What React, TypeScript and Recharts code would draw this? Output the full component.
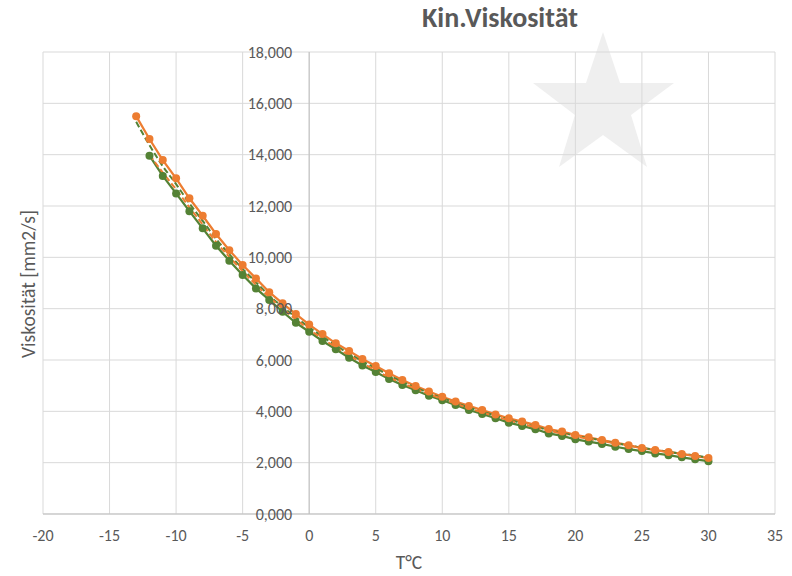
import { CartesianGrid, Label, Line, LineChart, ReferenceDot, ReferenceLine, XAxis, YAxis } from "recharts";

// temperature steps (°C)
const temps = [
  -13, -12, -11, -10, -9, -8, -7, -6, -5, -4, -3, -2, -1, 0, 1, 2, 3, 4, 5, 6, 7, 8, 9, 10, 11,
  12, 13, 14, 15, 16, 17, 18, 19, 20, 21, 22, 23, 24, 25, 26, 27, 28, 29, 30,
];

// kin. viscosity, orange series (from -13)
const orangeVals = [
  15.5, 14.61, 13.79, 13.08, 12.3, 11.62, 10.91, 10.28, 9.7, 9.18, 8.64, 8.21, 7.79, 7.38, 7.01,
  6.65, 6.35, 6.04, 5.77, 5.48, 5.22, 4.99, 4.77, 4.57, 4.38, 4.21, 4.05, 3.88, 3.73, 3.6, 3.47,
  3.31, 3.21, 3.08, 2.99, 2.88, 2.78, 2.68, 2.57, 2.49, 2.42, 2.34, 2.26, 2.18,
];

// green series (from -12)
const greenVals = [
  13.96, 13.17, 12.49, 11.8, 11.13, 10.45, 9.87, 9.31, 8.79, 8.34, 7.88, 7.45, 7.1, 6.74, 6.42,
  6.09, 5.79, 5.53, 5.26, 5.03, 4.82, 4.61, 4.43, 4.25, 4.05, 3.9, 3.73, 3.56, 3.43, 3.3, 3.14,
  3.04, 2.91, 2.82, 2.73, 2.62, 2.53, 2.45, 2.36, 2.29, 2.21, 2.13, 2.06,
];

// dashed trend lines
const greenTrend = [
  15.28, 14.37, 13.55, 12.85, 12.1, 11.42, 10.72, 10.12, 9.55, 9.03, 8.51, 8.08, 7.66, 7.27, 6.91,
  6.56, 6.25, 5.95, 5.68, 5.4, 5.15, 4.93, 4.71, 4.52, 4.33, 4.15, 3.99, 3.83, 3.68, 3.53, 3.4,
  3.27, 3.16, 3.05, 2.96, 2.86, 2.76, 2.67, 2.58, 2.5, 2.42, 2.35, 2.28, 2.2,
];
const orangeTrend = [
  14.0, 13.3, 12.65, 11.95, 11.28, 10.6, 10.02, 9.46, 8.93, 8.45, 8.0, 7.58, 7.19, 6.83, 6.5,
  6.18, 5.88, 5.6, 5.33, 5.1, 4.88, 4.67, 4.48, 4.3, 4.12, 3.96, 3.8, 3.65, 3.51, 3.38, 3.25,
  3.13, 3.02, 2.93, 2.84, 2.75, 2.65, 2.57, 2.49, 2.4, 2.33, 2.26, 2.19,
];

const xTicks = [-20, -15, -10, -5, 0, 5, 10, 15, 20, 25, 30, 35];
const yTicks = [0, 2, 4, 6, 8, 10, 12, 14, 16, 18];

const data = temps.map((t, i) => ({
  t,
  orange: orangeVals[i],
  green: i === 0 ? undefined : greenVals[i - 1],
  gTrend: greenTrend[i],
  oTrend: i === 0 ? undefined : orangeTrend[i - 1],
}));

const ORANGE = "#ED7D31";
const GREEN = "#548235";
const TEXT = "#595959";
const FONT = "Carlito, Calibri, 'Liberation Sans', sans-serif";

const fmt = (v: number) => v.toFixed(3).replace(".", ",");

export default function App() {
  return (
    <div style={{ position: "absolute", left: 0, top: 0, width: 792, height: 576, background: "#fff", fontFamily: FONT }}>
      <svg width={792} height={576} style={{ position: "absolute", left: 0, top: 0 }}>
        <polygon points="603,32 620,83 674,83 631,115 647,167 603,135 559,167 575,115 533,83 586,83" fill="#efefef" />
      </svg>
      <div
        style={{
          position: "absolute",
          left: 400,
          width: 200,
          top: 0,
          lineHeight: "36px",
          textAlign: "center",
          fontSize: 28,
          fontWeight: "bold",
          color: TEXT,
        }}
      >
        Kin.Viskosität
      </div>
      <div
        style={{
          position: "absolute",
          left: 28,
          top: 284,
          transform: "translate(-50%, -50%) rotate(-90deg)",
          whiteSpace: "nowrap",
          fontSize: 19.5,
          color: TEXT,
        }}
      >
        Viskosität [mm2/s]
      </div>
      <div style={{ position: "absolute", left: 0, top: 0 }}>
        <LineChart width={792} height={576} data={data} margin={{ top: 52, right: 17, left: 43, bottom: 0 }}>
          <CartesianGrid stroke="#d9d9d9" strokeWidth={1} />
          <XAxis
            dataKey="t"
            type="number"
            domain={[-20, 35]}
            ticks={xTicks}
            interval={0}
            height={62}
            stroke="#bfbfbf"
            tickLine={false}
            tickMargin={10}
            tick={{ fill: TEXT, fontSize: 16, fontFamily: FONT }}
          >
            <Label value="T°C" position="insideBottom" offset={7} fill={TEXT} fontSize={19.5} fontFamily={FONT} />
          </XAxis>
          <YAxis hide type="number" domain={[0, 18]} ticks={yTicks} />
          <ReferenceLine x={0} stroke="#bfbfbf" />
          {yTicks.map((v) => (
            <ReferenceDot
              key={v}
              x={0}
              y={v}
              r={0}
              stroke="none"
              label={{ value: fmt(v), position: "left", offset: 17, fill: TEXT, fontSize: 16, fontFamily: FONT }}
            />
          ))}
          <Line
            dataKey="green"
            stroke={GREEN}
            strokeWidth={2.25}
            dot={{ r: 4, fill: GREEN, stroke: GREEN, strokeWidth: 0 }}
            isAnimationActive={false}
          />
          <Line
            dataKey="orange"
            stroke={ORANGE}
            strokeWidth={2.25}
            dot={{ r: 4, fill: ORANGE, stroke: ORANGE, strokeWidth: 0 }}
            isAnimationActive={false}
          />
          <Line
            type="monotone"
            dataKey="gTrend"
            stroke={GREEN}
            strokeWidth={2}
            strokeDasharray="6 3"
            dot={false}
            isAnimationActive={false}
          />
          <Line
            type="monotone"
            dataKey="oTrend"
            stroke={ORANGE}
            strokeWidth={2}
            strokeDasharray="6 3"
            dot={false}
            isAnimationActive={false}
          />
        </LineChart>
      </div>
    </div>
  );
}
